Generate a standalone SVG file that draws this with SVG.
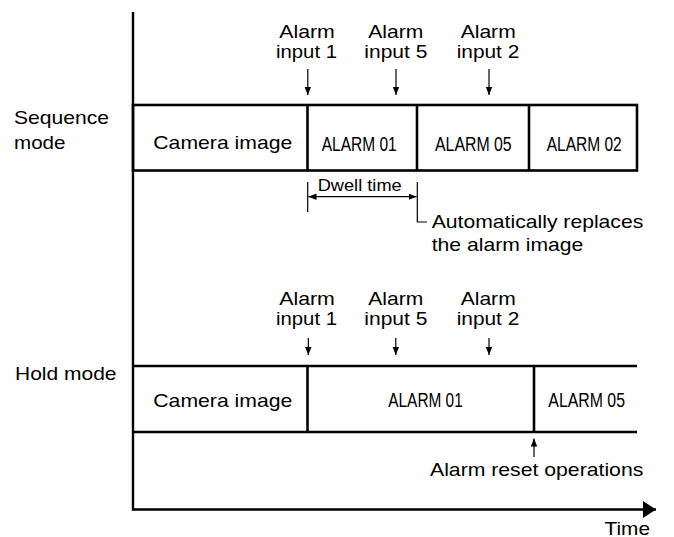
<svg xmlns="http://www.w3.org/2000/svg" width="674" height="537" viewBox="0 0 674 537">
<style>
  text { font-family: "Liberation Sans", Arial, sans-serif; font-size: 19px; fill: #000; }
  .cond { font-size: 20px; }
  .small { font-size: 17px; }
  .thick { stroke: #000; stroke-width: 2.6; fill: none; }
  .axis { stroke: #000; stroke-width: 2.4; fill: none; }
  .thin { stroke: #000; stroke-width: 1.2; fill: none; }
</style>
<defs>
  <marker id="ah" markerUnits="userSpaceOnUse" markerWidth="8" markerHeight="8" viewBox="0 0 8 8" refX="8" refY="4" orient="auto">
    <path d="M0,0.8 L8,4 L0,7.2 Z" fill="#000"/>
  </marker>
  <marker id="ahs" markerUnits="userSpaceOnUse" markerWidth="8" markerHeight="8" viewBox="0 0 8 8" refX="0" refY="4" orient="auto">
    <path d="M8,0.8 L0,4 L8,7.2 Z" fill="#000"/>
  </marker>
  <marker id="big" markerUnits="userSpaceOnUse" markerWidth="14" markerHeight="18" viewBox="0 0 14 18" refX="13" refY="9" orient="auto">
    <path d="M0,0.5 L13,9 L0,17.5 Z" fill="#000"/>
  </marker>
</defs>

<g id="axes">
  <path class="axis" d="M133,12 V509.5 H656" marker-end="url(#big)"/>
  <text x="604.5" y="535" textLength="45.5" lengthAdjust="spacingAndGlyphs">Time</text>
</g>

<g id="label-sequence">
  <text x="14" y="124" textLength="95" lengthAdjust="spacingAndGlyphs">Sequence</text>
  <text x="14" y="148.5" textLength="51.5" lengthAdjust="spacingAndGlyphs">mode</text>
</g>
<g id="label-hold">
  <text x="15" y="380" textLength="101.5" lengthAdjust="spacingAndGlyphs">Hold mode</text>
</g>

<g id="seq-row">
  <rect class="thick" x="133" y="105" width="504" height="65.5"/>
  <line class="thick" x1="307.5" y1="105" x2="307.5" y2="170.5"/>
  <line class="thick" x1="417" y1="105" x2="417" y2="170.5"/>
  <line class="thick" x1="529" y1="105" x2="529" y2="170.5"/>
</g>
<g id="seq-camera">
  <text x="153.3" y="149" textLength="139" lengthAdjust="spacingAndGlyphs">Camera image</text>
</g>
<g id="seq-alarm01">
  <text class="cond" x="321.7" y="150.5" textLength="75" lengthAdjust="spacingAndGlyphs">ALARM 01</text>
</g>
<g id="seq-alarm05">
  <text class="cond" x="435" y="150.5" textLength="76.7" lengthAdjust="spacingAndGlyphs">ALARM 05</text>
</g>
<g id="seq-alarm02">
  <text class="cond" x="546.7" y="150.5" textLength="75" lengthAdjust="spacingAndGlyphs">ALARM 02</text>
</g>

<g id="seq-inputs">
  <text x="279.2" y="37.7" textLength="55.7" lengthAdjust="spacingAndGlyphs">Alarm</text>
  <text x="276" y="57.5" textLength="61" lengthAdjust="spacingAndGlyphs">input 1</text>
  <text x="368.3" y="37.7" textLength="55" lengthAdjust="spacingAndGlyphs">Alarm</text>
  <text x="364.3" y="57.5" textLength="63" lengthAdjust="spacingAndGlyphs">input 5</text>
  <text x="460.7" y="37.7" textLength="55" lengthAdjust="spacingAndGlyphs">Alarm</text>
  <text x="456.7" y="57.5" textLength="62.6" lengthAdjust="spacingAndGlyphs">input 2</text>
</g>

<g id="dwell">
  <text class="small" x="317.7" y="190.7" textLength="84" lengthAdjust="spacingAndGlyphs">Dwell time</text>
  <text x="431.7" y="227.7" textLength="211.6" lengthAdjust="spacingAndGlyphs">Automatically replaces</text>
  <text x="431.7" y="250.7" textLength="151.6" lengthAdjust="spacingAndGlyphs">the alarm image</text>
</g>

<g id="hold-row">
  <path class="thick" d="M133,366 H637 M133,432 H637"/>
  <line class="thick" x1="307.5" y1="366" x2="307.5" y2="432"/>
  <line class="thick" x1="534" y1="366" x2="534" y2="432"/>
</g>
<g id="hold-camera">
  <text x="153.3" y="406.7" textLength="139" lengthAdjust="spacingAndGlyphs">Camera image</text>
</g>
<g id="hold-alarm01">
  <text class="cond" x="388.3" y="407" textLength="74.4" lengthAdjust="spacingAndGlyphs">ALARM 01</text>
</g>
<g id="hold-alarm05">
  <text class="cond" x="548.3" y="407" textLength="76.7" lengthAdjust="spacingAndGlyphs">ALARM 05</text>
</g>

<g id="hold-inputs">
  <text x="279.2" y="305" textLength="55.7" lengthAdjust="spacingAndGlyphs">Alarm</text>
  <text x="276" y="324.5" textLength="61" lengthAdjust="spacingAndGlyphs">input 1</text>
  <text x="368.3" y="305" textLength="55" lengthAdjust="spacingAndGlyphs">Alarm</text>
  <text x="364.3" y="324.5" textLength="63" lengthAdjust="spacingAndGlyphs">input 5</text>
  <text x="460.7" y="305" textLength="55" lengthAdjust="spacingAndGlyphs">Alarm</text>
  <text x="456.7" y="324.5" textLength="62.6" lengthAdjust="spacingAndGlyphs">input 2</text>
</g>

<g id="reset">
  <text x="430" y="476" textLength="213.3" lengthAdjust="spacingAndGlyphs">Alarm reset operations</text>
</g>

<g id="connectors">
  <line class="thin" x1="307.8" y1="69" x2="307.8" y2="95" marker-end="url(#ah)"/>
  <line class="thin" x1="396" y1="69" x2="396" y2="95" marker-end="url(#ah)"/>
  <line class="thin" x1="489" y1="69" x2="489" y2="95" marker-end="url(#ah)"/>
  <line class="thin" x1="308.3" y1="338" x2="308.3" y2="355" marker-end="url(#ah)"/>
  <line class="thin" x1="395.8" y1="338" x2="395.8" y2="355" marker-end="url(#ah)"/>
  <line class="thin" x1="489" y1="338" x2="489" y2="355" marker-end="url(#ah)"/>
  <line class="thin" x1="534" y1="457" x2="534" y2="438.5" marker-end="url(#ah)"/>
  <line class="thin" x1="307.7" y1="182" x2="307.7" y2="212"/>
  <path class="thin" d="M417.3,182 V222 H427"/>
  <line class="thin" x1="308.5" y1="196.7" x2="416.5" y2="196.7" marker-start="url(#ahs)" marker-end="url(#ah)"/>
</g>
</svg>
